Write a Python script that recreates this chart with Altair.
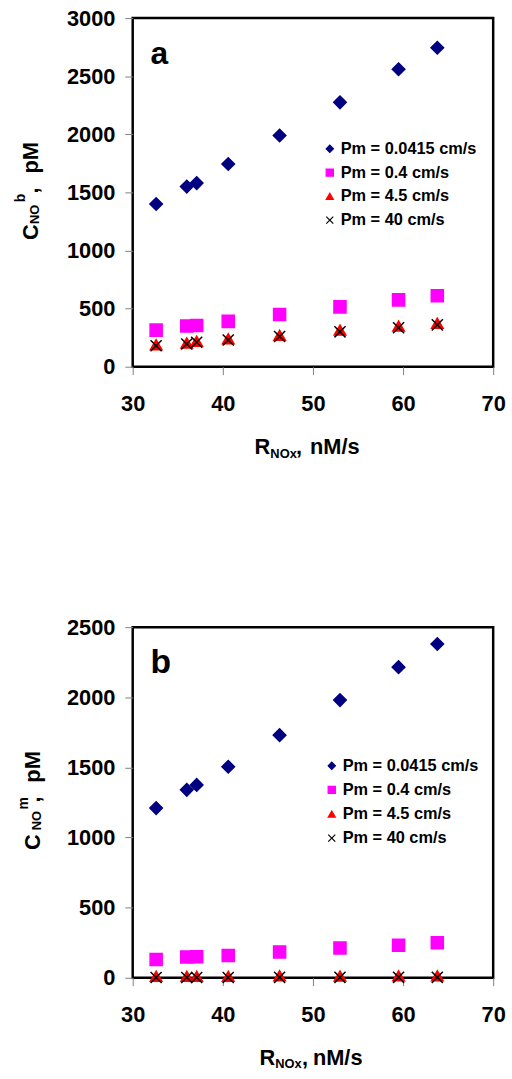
import altair as alt
import pandas as pd

FONT = "Liberation Sans"

# ---------------- data ----------------
x_rnox = [32.6, 36.0, 37.1, 40.6, 46.3, 53.0, 59.5, 63.8]
series = ["Pm = 0.0415 cm/s", "Pm = 0.4 cm/s", "Pm = 4.5 cm/s", "Pm = 40 cm/s"]

a_p00415 = [1400, 1550, 1580, 1745, 1990, 2275, 2560, 2745]
a_p04 = [315, 350, 355, 390, 450, 515, 575, 610]
a_p45 = [190, 205, 220, 240, 270, 315, 350, 375]
a_p40 = [180, 195, 210, 230, 260, 300, 335, 360]

b_p00415 = [1210, 1340, 1375, 1505, 1730, 1980, 2215, 2380]
b_p04 = [130, 148, 150, 158, 184, 212, 231, 249]
b_p45 = [10, 10, 10, 10, 15, 12, 14, 14]
b_p40 = [2, 2, 2, 2, 3, 3, 3, 3]

x_ticks = [30, 40, 50, 60, 70]
ya_ticks = [0, 500, 1000, 1500, 2000, 2500, 3000]
yb_ticks = [0, 500, 1000, 1500, 2000, 2500]

colors = ["#000080", "#ff00ff", "#ff0000", "#000000"]
shapes = ["diamond", "square", "triangle-up", "M-1,-1L1,1M-1,1L1,-1"]
sizes = [160, 125, 175, 250]
legend_sizes = [55, 50, 75, 75]


def long_df(cols):
    rows = []
    for s, vals in zip(series, cols):
        for xv, yv in zip(x_rnox, vals):
            rows.append({"x": xv, "y": yv, "series": s})
    return pd.DataFrame(rows)


one = pd.DataFrame({"k": [0]})
leg_df = pd.DataFrame({"series": series})

fill_enc = alt.Fill("series:N", scale=alt.Scale(domain=series, range=colors), legend=None)
stroke_enc = alt.Stroke("series:N", scale=alt.Scale(domain=series, range=colors), legend=None)
shape_enc = alt.Shape("series:N", scale=alt.Scale(domain=series, range=shapes), legend=None)


def txt(s, x, y, size, angle=0, weight="bold"):
    kw = dict(font=FONT, fontWeight=weight, fontSize=size, color="black",
              align="left", baseline="alphabetic")
    if angle:
        kw["angle"] = angle
    return alt.Chart(one).mark_text(**kw).encode(
        x=alt.value(x), y=alt.value(y), text=alt.value(s))


def panel(cols, ymax, yticks, W, H, label, label_size, sup,
          ytitle_pos, xtitle_pos, leg_sym_x, leg_txt_x, leg_rows):
    df = long_df(cols)
    pts = alt.Chart(df).mark_point(filled=True, strokeWidth=1.5, opacity=1).encode(
        x=alt.X("x:Q", scale=alt.Scale(domain=[30, 70], nice=False, zero=False),
                axis=alt.Axis(values=x_ticks, title=None, labelPadding=19,
                              format="d", labelFlush=False)),
        y=alt.Y("y:Q", scale=alt.Scale(domain=[0, ymax], nice=False),
                axis=alt.Axis(values=yticks, title=None, labelPadding=10, format="d")),
        fill=fill_enc, stroke=stroke_enc, shape=shape_enc,
        size=alt.Size("series:N", scale=alt.Scale(domain=series, range=sizes), legend=None),
    )
    leg_y = alt.Y("series:N", scale=alt.Scale(domain=series, range=leg_rows, padding=0),
                  axis=None)
    leg_pts = alt.Chart(leg_df).mark_point(filled=True, strokeWidth=1.2, opacity=1).encode(
        x=alt.value(leg_sym_x), y=leg_y,
        fill=fill_enc, stroke=stroke_enc, shape=shape_enc,
        size=alt.Size("series:N", scale=alt.Scale(domain=series, range=legend_sizes),
                      legend=None),
    )
    leg_txt = alt.Chart(leg_df).mark_text(
        font=FONT, fontWeight="bold", fontSize=16.5, color="black",
        align="left", baseline="middle"
    ).encode(x=alt.value(leg_txt_x), y=leg_y, text="series:N")

    (cx, cy), (nx, ny), (sx, sy), (kx, ky), (px, py) = ytitle_pos
    (rx, ry), (ox, oy), (qx, qy), (mx, my) = xtitle_pos
    layers = [
        pts,
        leg_pts,
        leg_txt,
        txt(label, 18, 46, label_size),
        # y-axis title  C_NO^sup, pM
        txt("C", cx, cy, 22, 270),
        txt("NO", nx, ny, 13, 270),
        txt(sup, sx, sy, 14, 270),
        txt(",", kx, ky, 22, 270),
        txt("pM", px, py, 22, 270),
        # x-axis title  R_NOx, nM/s
        txt("R", rx, ry, 22),
        txt("NOx", ox, oy, 13),
        txt(",", qx, qy, 22),
        txt("nM/s", mx, my, 22),
    ]
    return alt.layer(*layers).resolve_scale(y="independent", size="independent").properties(
        width=W, height=H)


pa = panel([a_p00415, a_p04, a_p45, a_p40], 3000, ya_ticks, 364, 352, "a", 32, "b",
           [(-96, 224), (-95, 208), (-109, 186), (-96, 177), (-96, 157)],
           [(123, 440), (139, 444), (165, 440), (179, 440)],
           199, 210, [132, 204])
pb = panel([b_p00415, b_p04, b_p45, b_p40], 2500, yb_ticks, 364, 354, "b", 34, "m",
           [(-94, 225), (-93, 205), (-106, 184), (-94, 177), (-94, 157)],
           [(128, 442), (144, 445), (171, 442), (182, 442)],
           201, 212, [140, 213])

chart = alt.vconcat(pa, pb, spacing=153, background="white").properties(
    padding={"left": 12, "top": 0, "right": 5, "bottom": 5}
).configure_view(
    stroke="black", strokeWidth=2.5
).configure_axis(
    domain=False, grid=False, ticks=True, tickSize=8, tickColor="#808080",
    labelFont=FONT, labelFontWeight="bold", labelFontSize=22, labelColor="black"
)

chart.save("out.html", embed_options={"renderer": "svg", "actions": False})
